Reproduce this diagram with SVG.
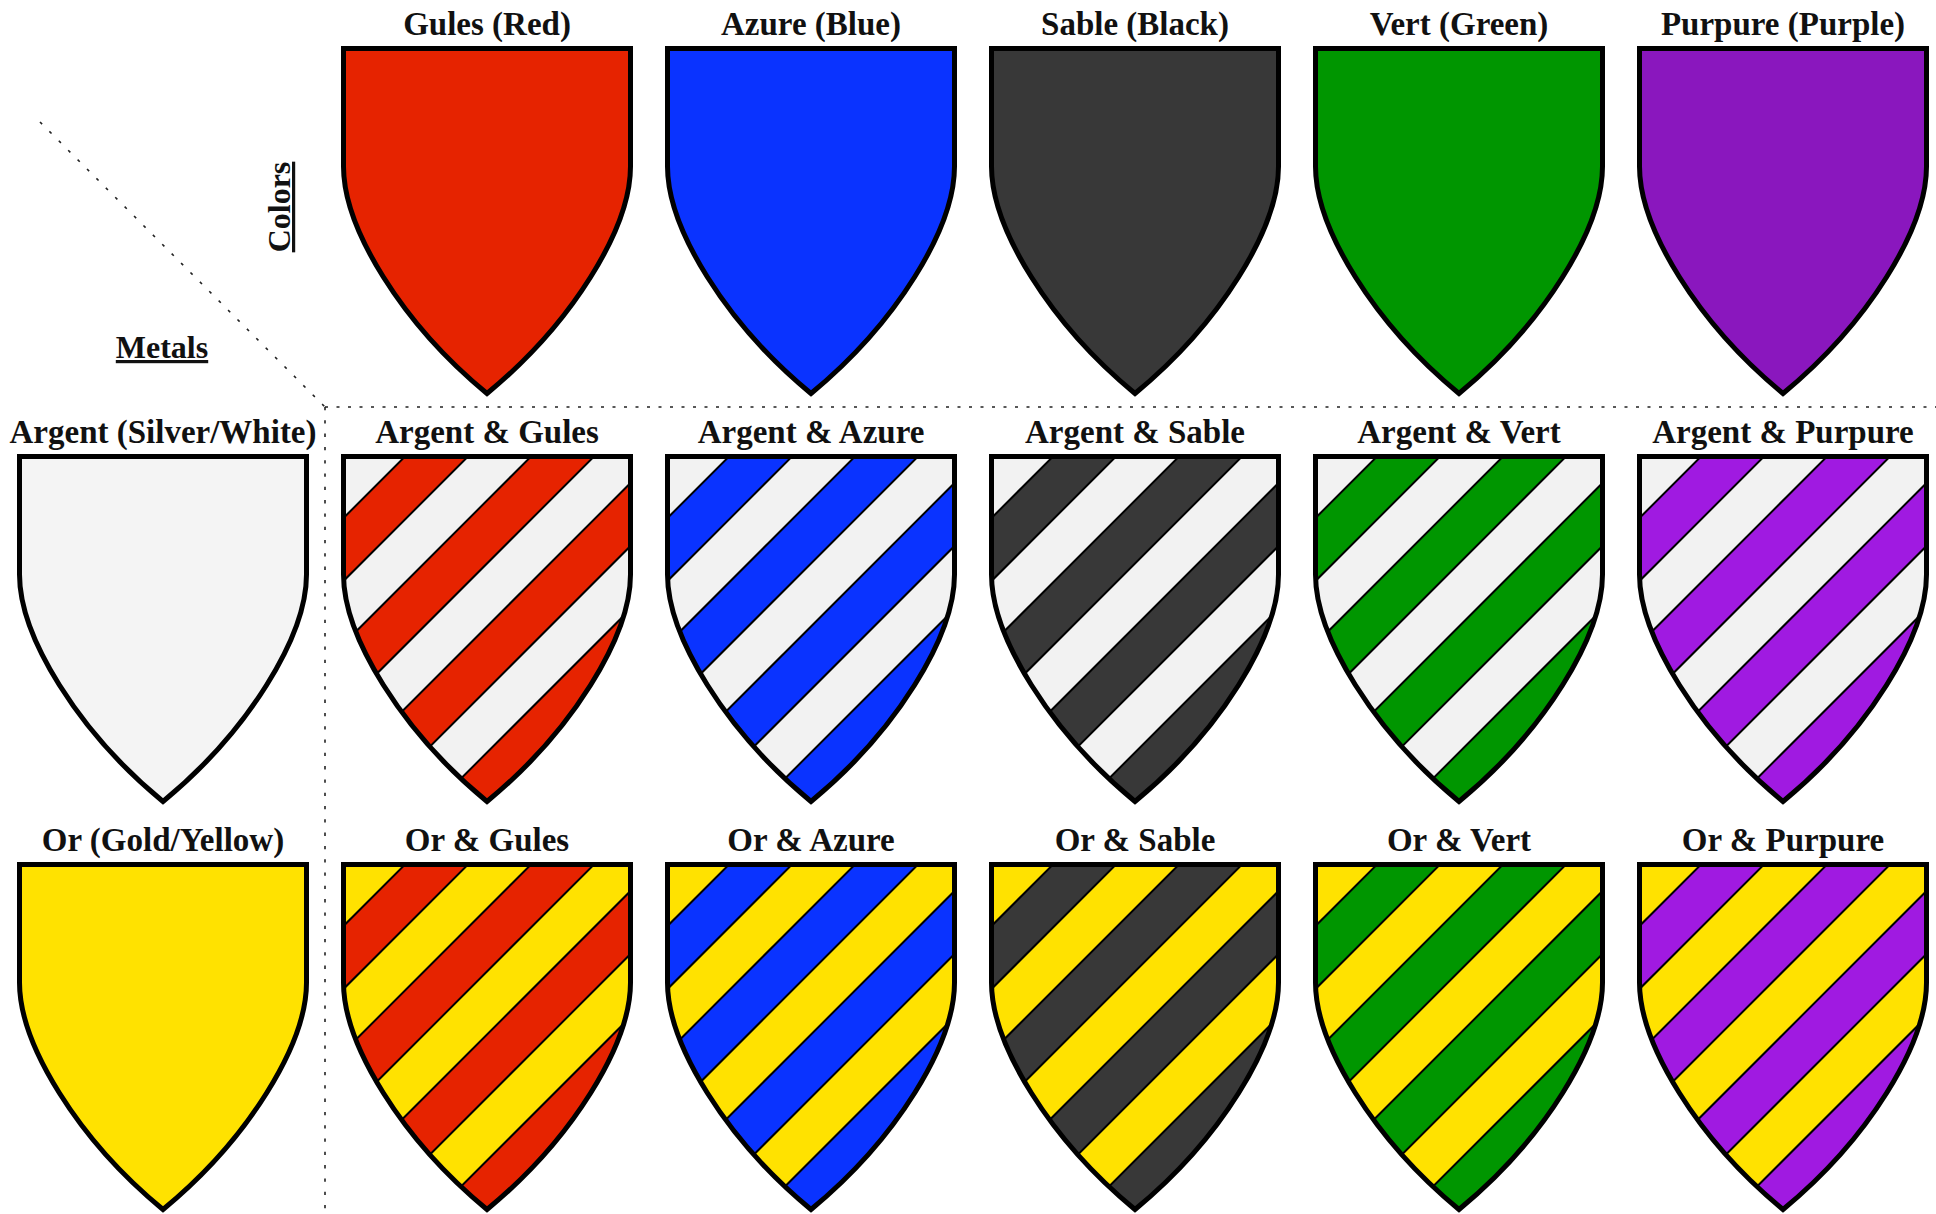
<svg xmlns="http://www.w3.org/2000/svg" xmlns:xlink="http://www.w3.org/1999/xlink" width="1936" height="1214" viewBox="0 0 1936 1214">
<style>
.lbl{font-family:"Liberation Serif","Times New Roman",serif;font-weight:bold;font-size:33px;fill:#111;text-anchor:middle}
.hdr{font-family:"Liberation Serif","Times New Roman",serif;font-weight:bold;font-size:32px;fill:#111;text-anchor:middle;text-decoration:underline}
.outline{fill:none;stroke:#000;stroke-width:5;stroke-linejoin:miter;stroke-miterlimit:10}
.bands polygon{stroke:#000;stroke-width:2;stroke-linejoin:miter}
.dot{fill:none;stroke:#222;stroke-width:1.6}
</style>
<defs>
<path id="shield" d="M-143.5,0 H143.5 V118 C143.5,180 85,275 0,345 C-85,275 -143.5,180 -143.5,118 Z"/>
<clipPath id="clip"><use xlink:href="#shield" href="#shield"/></clipPath>
<g id="bands" class="bands">
<polygon points="-62,-20 1,-20 -399,380 -462,380"/>
<polygon points="64,-20 127,-20 -273,380 -336,380"/>
<polygon points="190,-20 253,-20 -147,380 -210,380"/>
<polygon points="316,-20 1020,-20 620,380 -84,380"/>
</g>
</defs>

<g id="connectors">
<line class="dot" x1="40" y1="122" x2="325" y2="407" stroke-dasharray="3 10.3"/>
<line class="dot" x1="325" y1="407" x2="1936" y2="407" stroke-dasharray="3 8.5"/>
<line class="dot" x1="325" y1="407" x2="325" y2="1214" stroke-dasharray="3.3 10"/>
</g>

<g id="headers">
<text class="hdr" x="162" y="358">Metals</text>
<text class="hdr" transform="translate(290,207) rotate(-90)" x="0" y="0">Colors</text>
</g>

<!-- Row 1: colors -->
<g id="gules" transform="translate(487,48.5)">
<use xlink:href="#shield" href="#shield" fill="#e62300"/><use xlink:href="#shield" href="#shield" class="outline"/>
<text class="lbl" x="0" y="-13.5">Gules (Red)</text></g>
<g id="azure" transform="translate(811,48.5)">
<use xlink:href="#shield" href="#shield" fill="#0a33ff"/><use xlink:href="#shield" href="#shield" class="outline"/>
<text class="lbl" x="0" y="-13.5">Azure (Blue)</text></g>
<g id="sable" transform="translate(1135,48.5)">
<use xlink:href="#shield" href="#shield" fill="#383838"/><use xlink:href="#shield" href="#shield" class="outline"/>
<text class="lbl" x="0" y="-13.5">Sable (Black)</text></g>
<g id="vert" transform="translate(1459,48.5)">
<use xlink:href="#shield" href="#shield" fill="#009600"/><use xlink:href="#shield" href="#shield" class="outline"/>
<text class="lbl" x="0" y="-13.5">Vert (Green)</text></g>
<g id="purpure" transform="translate(1783,48.5)">
<use xlink:href="#shield" href="#shield" fill="#8a17be"/><use xlink:href="#shield" href="#shield" class="outline"/>
<text class="lbl" x="0" y="-13.5">Purpure (Purple)</text></g>

<!-- Row 2: argent -->
<g id="argent" transform="translate(163,456.5)">
<use xlink:href="#shield" href="#shield" fill="#f4f4f4"/><use xlink:href="#shield" href="#shield" class="outline"/>
<text class="lbl" x="0" y="-13.5">Argent (Silver/White)</text></g>
<g id="argent-gules" transform="translate(487,456.5)">
<use xlink:href="#shield" href="#shield" fill="#f2f2f2"/><g clip-path="url(#clip)"><use xlink:href="#bands" href="#bands" fill="#e62300"/></g><use xlink:href="#shield" href="#shield" class="outline"/>
<text class="lbl" x="0" y="-13.5">Argent &amp; Gules</text></g>
<g id="argent-azure" transform="translate(811,456.5)">
<use xlink:href="#shield" href="#shield" fill="#f2f2f2"/><g clip-path="url(#clip)"><use xlink:href="#bands" href="#bands" fill="#0a33ff"/></g><use xlink:href="#shield" href="#shield" class="outline"/>
<text class="lbl" x="0" y="-13.5">Argent &amp; Azure</text></g>
<g id="argent-sable" transform="translate(1135,456.5)">
<use xlink:href="#shield" href="#shield" fill="#f2f2f2"/><g clip-path="url(#clip)"><use xlink:href="#bands" href="#bands" fill="#383838"/></g><use xlink:href="#shield" href="#shield" class="outline"/>
<text class="lbl" x="0" y="-13.5">Argent &amp; Sable</text></g>
<g id="argent-vert" transform="translate(1459,456.5)">
<use xlink:href="#shield" href="#shield" fill="#f2f2f2"/><g clip-path="url(#clip)"><use xlink:href="#bands" href="#bands" fill="#009600"/></g><use xlink:href="#shield" href="#shield" class="outline"/>
<text class="lbl" x="0" y="-13.5">Argent &amp; Vert</text></g>
<g id="argent-purpure" transform="translate(1783,456.5)">
<use xlink:href="#shield" href="#shield" fill="#f2f2f2"/><g clip-path="url(#clip)"><use xlink:href="#bands" href="#bands" fill="#a01ae1"/></g><use xlink:href="#shield" href="#shield" class="outline"/>
<text class="lbl" x="0" y="-13.5">Argent &amp; Purpure</text></g>

<!-- Row 3: or -->
<g id="or" transform="translate(163,864.5)">
<use xlink:href="#shield" href="#shield" fill="#ffe200"/><use xlink:href="#shield" href="#shield" class="outline"/>
<text class="lbl" x="0" y="-13.5">Or (Gold/Yellow)</text></g>
<g id="or-gules" transform="translate(487,864.5)">
<use xlink:href="#shield" href="#shield" fill="#ffe200"/><g clip-path="url(#clip)"><use xlink:href="#bands" href="#bands" fill="#e62300"/></g><use xlink:href="#shield" href="#shield" class="outline"/>
<text class="lbl" x="0" y="-13.5">Or &amp; Gules</text></g>
<g id="or-azure" transform="translate(811,864.5)">
<use xlink:href="#shield" href="#shield" fill="#ffe200"/><g clip-path="url(#clip)"><use xlink:href="#bands" href="#bands" fill="#0a33ff"/></g><use xlink:href="#shield" href="#shield" class="outline"/>
<text class="lbl" x="0" y="-13.5">Or &amp; Azure</text></g>
<g id="or-sable" transform="translate(1135,864.5)">
<use xlink:href="#shield" href="#shield" fill="#ffe200"/><g clip-path="url(#clip)"><use xlink:href="#bands" href="#bands" fill="#383838"/></g><use xlink:href="#shield" href="#shield" class="outline"/>
<text class="lbl" x="0" y="-13.5">Or &amp; Sable</text></g>
<g id="or-vert" transform="translate(1459,864.5)">
<use xlink:href="#shield" href="#shield" fill="#ffe200"/><g clip-path="url(#clip)"><use xlink:href="#bands" href="#bands" fill="#009600"/></g><use xlink:href="#shield" href="#shield" class="outline"/>
<text class="lbl" x="0" y="-13.5">Or &amp; Vert</text></g>
<g id="or-purpure" transform="translate(1783,864.5)">
<use xlink:href="#shield" href="#shield" fill="#ffe200"/><g clip-path="url(#clip)"><use xlink:href="#bands" href="#bands" fill="#a01ae1"/></g><use xlink:href="#shield" href="#shield" class="outline"/>
<text class="lbl" x="0" y="-13.5">Or &amp; Purpure</text></g>
</svg>
